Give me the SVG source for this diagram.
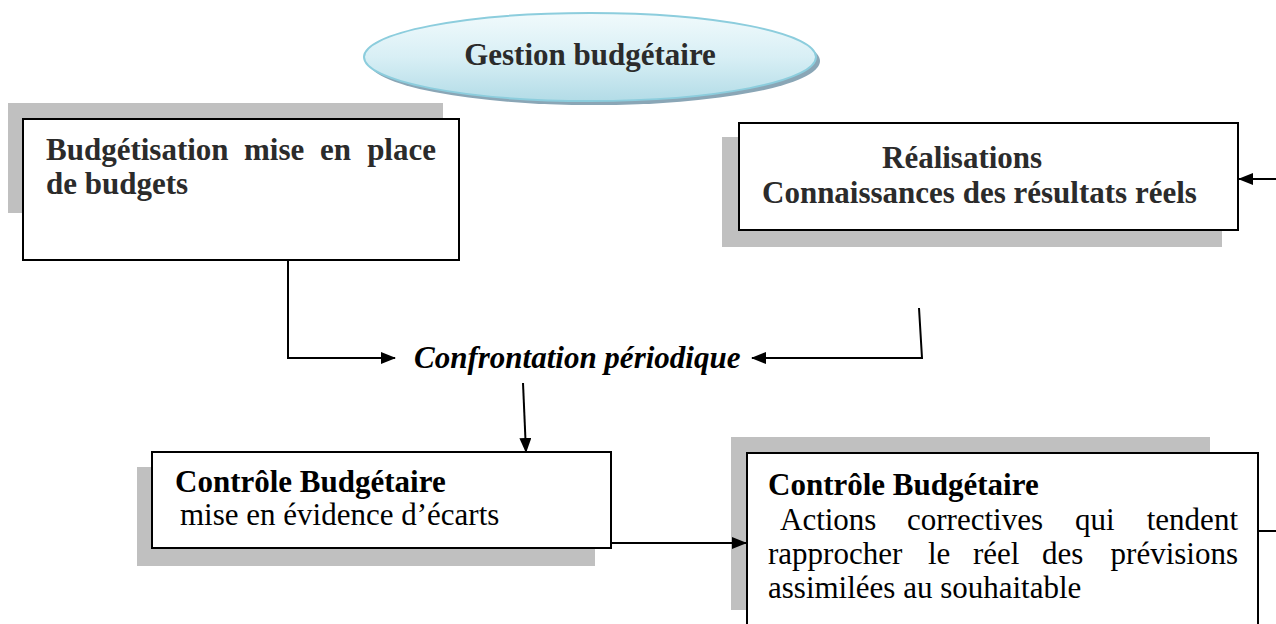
<svg xmlns="http://www.w3.org/2000/svg" width="1276" height="624" viewBox="0 0 1276 624">
  <defs>
    <linearGradient id="ovalFill" x1="0" y1="0" x2="0" y2="1">
      <stop offset="0" stop-color="#f1fafc"/>
      <stop offset="0.5" stop-color="#d8eff5"/>
      <stop offset="1" stop-color="#b3dce7"/>
    </linearGradient>
    <marker id="arrow" markerWidth="15" markerHeight="12" refX="14" refY="6" orient="auto" markerUnits="userSpaceOnUse">
      <path d="M0,0 L15,6 L0,12 Z" fill="#000"/>
    </marker>
  </defs>
  <style>
    .shadow { fill: #c0c0c0; }
    .box { fill: #fff; stroke: #000; stroke-width: 2; }
    .b { font-family: "Liberation Serif", "Times New Roman", serif; font-weight: bold; font-size: 31px; fill: #2b2b2b; }
    .r { font-family: "Liberation Serif", "Times New Roman", serif; font-size: 31px; fill: #000; }
    .bk { fill: #000; }
    .conn { fill: none; stroke: #000; stroke-width: 2; }
  </style>

  <rect width="1276" height="624" fill="#fff"/>

  <!-- title oval -->
  <g id="gestion">
    <ellipse cx="594" cy="61" rx="226" ry="44" fill="#8aa6b6"/>
    <ellipse cx="590" cy="57" rx="226" ry="44" fill="url(#ovalFill)" stroke="#8ccddd" stroke-width="2"/>
    <text x="590" y="65" text-anchor="middle" class="b">Gestion budgétaire</text>
  </g>

  <!-- budgeting -->
  <g id="budgetisation">
    <rect class="shadow" x="8" y="103" width="435" height="110"/>
    <rect class="box" x="23" y="119" width="436" height="141"/>
    <text class="b" y="160"><tspan x="46">Budgétisation</tspan><tspan x="244">mise</tspan><tspan x="320">en</tspan><tspan x="436" text-anchor="end">place</tspan></text>
    <text class="b" x="46" y="194">de budgets</text>
  </g>

  <!-- actual results -->
  <g id="realisations">
    <rect class="shadow" x="722" y="137" width="500" height="110"/>
    <rect class="box" x="739" y="123" width="499" height="107"/>
    <text class="b" x="882" y="168">Réalisations</text>
    <text class="b" x="762" y="203">Connaissances des résultats réels</text>
  </g>

  <!-- periodic comparison -->
  <g id="confrontation">
    <text x="414" y="368" font-family="Liberation Serif, Times New Roman, serif" font-weight="bold" font-style="italic" font-size="31" fill="#000">Confrontation périodique</text>
  </g>

  <!-- variance control -->
  <g id="controle-ecarts">
    <rect class="shadow" x="137" y="467" width="458" height="99"/>
    <rect class="box" x="152" y="452" width="459" height="96"/>
    <text class="b bk" x="175" y="492">Contrôle Budgétaire</text>
    <text class="r" x="180" y="525">mise en évidence d’écarts</text>
  </g>

  <!-- corrective actions -->
  <g id="controle-actions">
    <rect class="shadow" x="731" y="437" width="479" height="173"/>
    <rect class="box" x="747" y="453" width="511" height="180"/>
    <text class="b bk" x="768" y="495">Contrôle Budgétaire</text>
    <text class="r" y="530"><tspan x="780">Actions</tspan><tspan x="907">correctives</tspan><tspan x="1075">qui</tspan><tspan x="1238" text-anchor="end">tendent</tspan></text>
    <text class="r" y="564"><tspan x="768">rapprocher</tspan><tspan x="928">le</tspan><tspan x="973">réel</tspan><tspan x="1042">des</tspan><tspan x="1238" text-anchor="end">prévisions</tspan></text>
    <text class="r" x="768" y="598">assimilées au souhaitable</text>
  </g>

  <!-- connectors -->
  <g id="connectors">
    <path class="conn" d="M288,260 L288,358 L395,358" marker-end="url(#arrow)"/>
    <path class="conn" d="M919,308 L922,358 L752,358" marker-end="url(#arrow)"/>
    <path class="conn" d="M523,383 L526,452" marker-end="url(#arrow)"/>
    <path class="conn" d="M611,543 L746,543" marker-end="url(#arrow)"/>
    <path class="conn" d="M1276,179 L1239,179" marker-end="url(#arrow)"/>
    <path class="conn" d="M1258,531 L1276,531"/>
  </g>
</svg>
